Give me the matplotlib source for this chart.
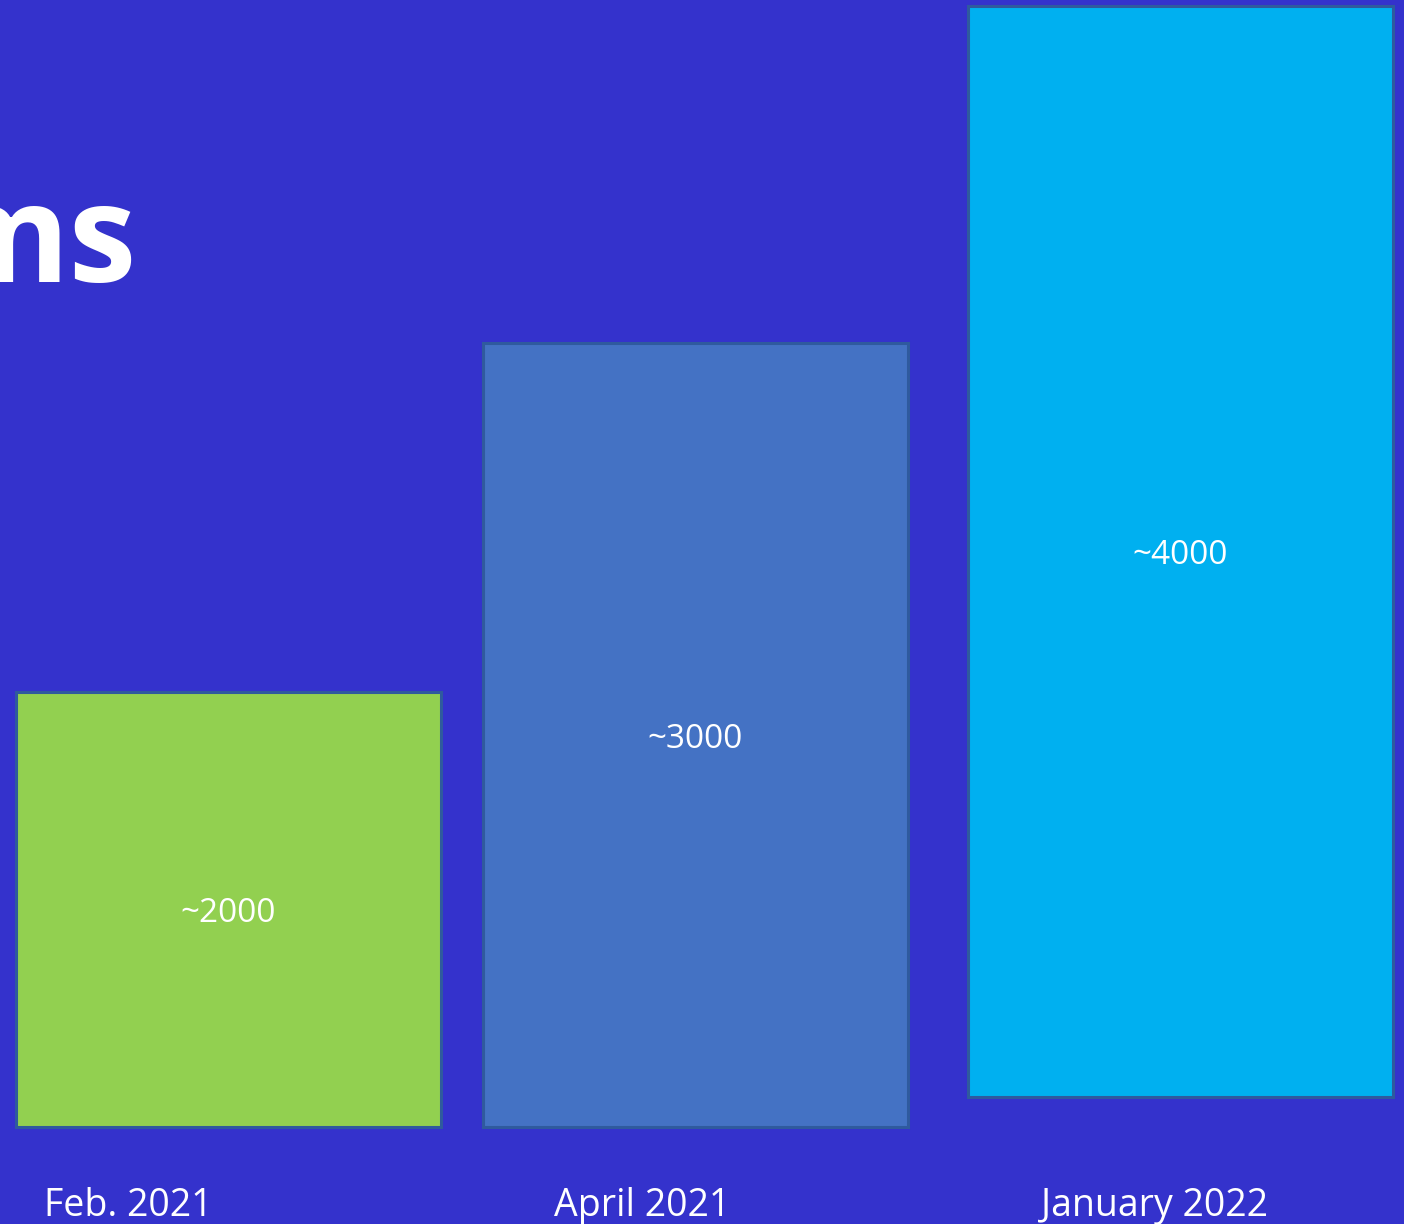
import matplotlib.pyplot as plt

plt.rcParams['font.family'] = ['Open Sans', 'DejaVu Sans']

# bar data (in slide pixel units, the bars are not proportional to the values)
categories = ['Feb. 2021', 'April 2021', 'January 2022']
value_labels = ['~2000', '~3000', '~4000']
bar_left = [16, 483, 968]
bar_width = [425, 425, 425]
bar_bottom = [97, 97, 127]
bar_height = [435, 784, 1091]
label_x = [128, 642, 1155]
colors = ['#92D050', '#4472C4', '#00B0F0']

bg = '#3432CC'

fig = plt.figure(figsize=(14.04, 12.24), dpi=100)
fig.patch.set_facecolor(bg)
ax = fig.add_axes([0, 0, 1, 1])
ax.set_facecolor(bg)
ax.set_xlim(0, 1404)
ax.set_ylim(0, 1224)
ax.axis('off')

bars = ax.bar(bar_left, bar_height, width=bar_width, bottom=bar_bottom,
              align='edge', color=colors, edgecolor='#2F5A9E', linewidth=2.2)

for b, lab in zip(bars, value_labels):
    ax.text(b.get_x() + b.get_width() / 2, b.get_y() + b.get_height() / 2 - 4, lab,
            ha='center', va='center', color='white', fontsize=24)

for x, cat in zip(label_x, categories):
    ax.text(x, 8, cat, ha='center', va='baseline', color='white', fontsize=27)

# title cut off at the left edge of the slide
ax.text(137, 942, 'ms', ha='right', va='baseline', color='white',
        fontsize=98, fontweight='bold')

fig.savefig('out.png', dpi=100, facecolor=bg)
